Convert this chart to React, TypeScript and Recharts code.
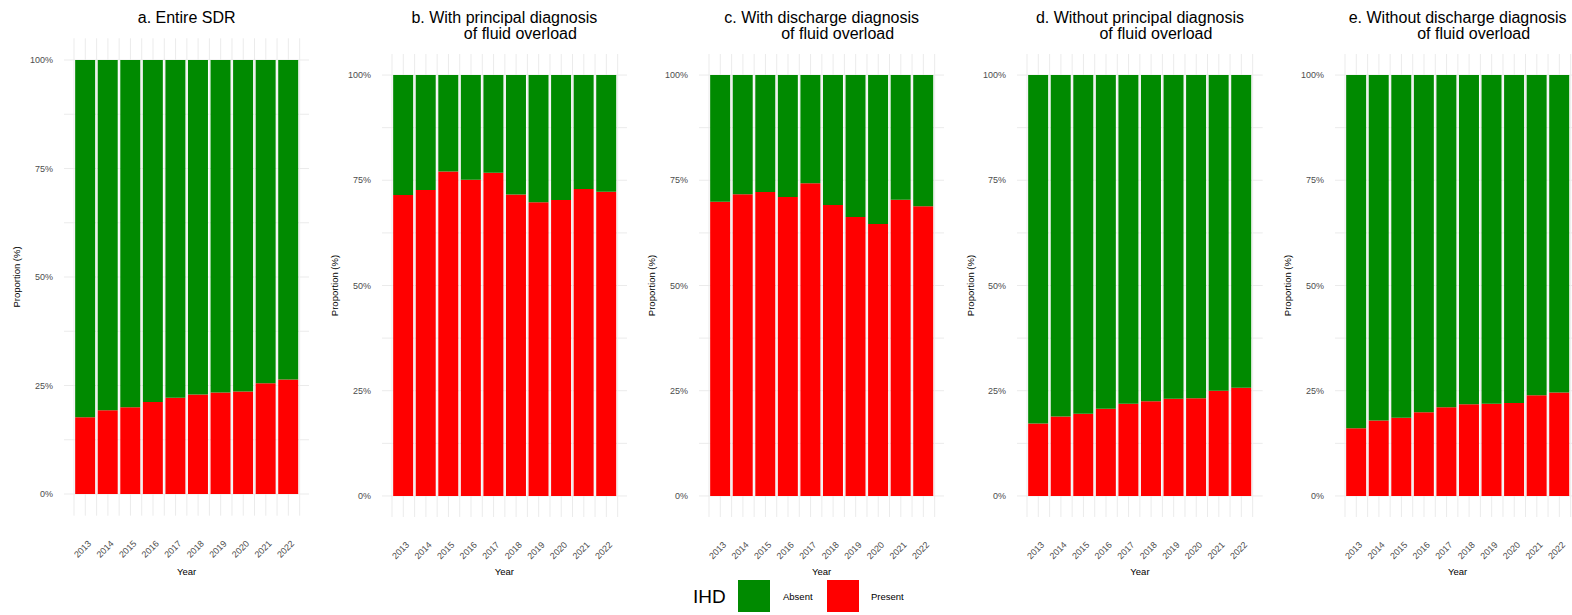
import React from 'react';
import { BarChart, Bar, XAxis, YAxis, CartesianGrid } from 'recharts';

// years on the x axis of every panel
const YEARS = [2013, 2014, 2015, 2016, 2017, 2018, 2019, 2020, 2021, 2022];

// share of admissions with IHD present (%), one list per panel
const PRESENT_ENTIRE = [17.7, 19.3, 20.0, 21.2, 22.2, 22.9, 23.4, 23.6, 25.5, 26.4];
const PRESENT_WITH_PRINCIPAL = [71.5, 72.7, 77.1, 75.1, 76.8, 71.6, 69.8, 70.3, 72.9, 72.3];
const PRESENT_WITH_DISCHARGE = [69.9, 71.7, 72.2, 71.0, 74.3, 69.1, 66.3, 64.6, 70.4, 68.8];
const PRESENT_WITHOUT_PRINCIPAL = [17.2, 18.9, 19.5, 20.7, 21.9, 22.5, 23.1, 23.2, 25.0, 25.7];
const PRESENT_WITHOUT_DISCHARGE = [16.1, 17.9, 18.6, 19.9, 21.1, 21.8, 21.9, 22.1, 23.9, 24.6];

const Y_MAJOR_TICKS = [0, 25, 50, 75, 100];
const Y_MINOR_TICKS = [12.5, 37.5, 62.5, 87.5];

const TITLES = [
  ['a. Entire SDR'],
  ['b. With principal diagnosis', 'of fluid overload'],
  ['c. With discharge diagnosis', 'of fluid overload'],
  ['d. Without principal diagnosis', 'of fluid overload'],
  ['e. Without discharge diagnosis', 'of fluid overload'],
];

const LEGEND_TITLE = 'IHD';
const ABSENT_LABEL = 'Absent';
const PRESENT_LABEL = 'Present';

const GREEN = '#008a00';
const RED = '#ff0000';
const GRID = '#ebebeb';
const FONT = '"Liberation Sans", Arial, Helvetica, sans-serif';

// plot panel rectangles (page px)
const PLOT_W = 245.7;
const AXIS_W = 60;
const XAXIS_H = 70;
const PANELS = [
  { present: PRESENT_ENTIRE, left: 63.8, top: 38.3, bottom: 515.7 },
  { present: PRESENT_WITH_PRINCIPAL, left: 381.5, top: 54, bottom: 517 },
  { present: PRESENT_WITH_DISCHARGE, left: 698.8, top: 54, bottom: 517 },
  { present: PRESENT_WITHOUT_PRINCIPAL, left: 1017.1, top: 54, bottom: 517 },
  { present: PRESENT_WITHOUT_DISCHARGE, left: 1334.8, top: 54, bottom: 517 },
];

const X_DOMAIN = [YEARS[0] - 0.945, YEARS[YEARS.length - 1] + 0.945];
const X_TICKS = [YEARS[0] - 0.5, ...YEARS.flatMap((y) => [y, y + 0.5])];
const Y_TICKS = [...Y_MAJOR_TICKS, ...Y_MINOR_TICKS].sort((a, b) => a - b);

const YearTick = (props: any) => {
  const { x, y, payload } = props;
  if (!Number.isInteger(payload.value)) return null;
  const ty = y + 16;
  return (
    <text
      x={x + 2}
      y={ty}
      transform={`rotate(-45, ${x + 2}, ${ty})`}
      textAnchor="end"
      dy="0.71em"
      fontSize={9}
      fill="#4d4d4d"
      fontFamily={FONT}
    >
      {payload.value}
    </text>
  );
};

const Panel = ({ cfg }: { cfg: (typeof PANELS)[number] }) => {
  const data = YEARS.map((year, i) => ({
    year,
    Present: cfg.present[i],
    Absent: +(100 - cfg.present[i]).toFixed(1),
  }));
  const height = cfg.bottom + XAXIS_H;
  return (
    <div style={{ position: 'absolute', left: cfg.left - AXIS_W, top: 0 }}>
      <BarChart
        width={PLOT_W + AXIS_W}
        height={height}
        data={data}
        barCategoryGap="5%"
        margin={{ top: cfg.top, right: 0, bottom: 0, left: 0 }}
      >
        <CartesianGrid
          stroke={GRID}
          strokeWidth={1}
          horizontalValues={Y_TICKS}
          verticalValues={X_TICKS}
        />
        <XAxis
          type="number"
          dataKey="year"
          domain={X_DOMAIN}
          ticks={X_TICKS}
          interval={0}
          allowDataOverflow
          tick={<YearTick />}
          tickLine={false}
          axisLine={false}
          height={XAXIS_H}
        />
        <YAxis
          type="number"
          domain={[-5, 105]}
          ticks={Y_TICKS}
          interval={0}
          allowDataOverflow
          tickFormatter={(v: number) => (Y_MAJOR_TICKS.includes(v) ? `${v}%` : '')}
          tick={{ fontSize: 9, fill: '#4d4d4d', fontFamily: FONT }}
          tickLine={false}
          axisLine={false}
          width={AXIS_W}
          tickMargin={5}
        />
        <Bar dataKey="Present" stackId="ihd" fill={RED} isAnimationActive={false} />
        <Bar dataKey="Absent" stackId="ihd" fill={GREEN} isAnimationActive={false} />
      </BarChart>
    </div>
  );
};

export default function App() {
  return (
    <div
      style={{
        position: 'absolute',
        left: 0,
        top: 0,
        width: 1572,
        height: 615,
        overflow: 'hidden',
        background: '#fff',
        fontFamily: FONT,
      }}
    >
      {PANELS.map((p, i) => (
        <Panel key={i} cfg={p} />
      ))}
      <svg
        width={1572}
        height={615}
        style={{ position: 'absolute', left: 0, top: 0, pointerEvents: 'none' }}
        fontFamily={FONT}
      >
        {PANELS.map((p, i) => {
          const cx = p.left + PLOT_W / 2;
          const cy = (p.top + p.bottom) / 2;
          const yx = p.left - 47;
          return (
            <g key={i}>
              {TITLES[i].map((line, j) => (
                <text
                  key={j}
                  x={cx + (j === 0 ? 0 : 16)}
                  y={23 + j * 16}
                  textAnchor="middle"
                  fontSize={16}
                  fill="#000"
                >
                  {line}
                </text>
              ))}
              <text
                x={yx}
                y={cy}
                transform={`rotate(-90, ${yx}, ${cy})`}
                textAnchor="middle"
                dy={3.5}
                fontSize={9.5}
                fill="#000"
              >
                Proportion (%)
              </text>
              <text x={cx} y={574.5} textAnchor="middle" fontSize={9.5} fill="#000">
                Year
              </text>
            </g>
          );
        })}
        <text x={693} y={603} fontSize={19} fill="#000">
          {LEGEND_TITLE}
        </text>
        <rect x={738} y={580} width={32} height={32} fill={GREEN} />
        <text x={783} y={599.5} fontSize={9.5} fill="#000">
          {ABSENT_LABEL}
        </text>
        <rect x={827} y={580} width={32} height={32} fill={RED} />
        <text x={871} y={599.5} fontSize={9.5} fill="#000">
          {PRESENT_LABEL}
        </text>
      </svg>
    </div>
  );
}
